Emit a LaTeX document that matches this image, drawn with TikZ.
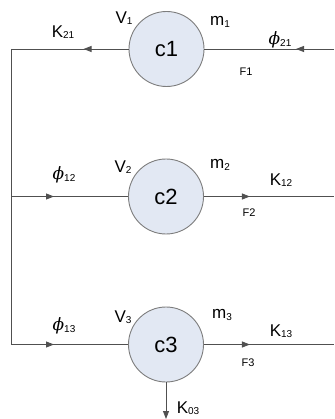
\documentclass[tikz,border=0pt]{standalone}
\usepackage{fontspec}
\setmainfont{Liberation Sans}
\newfontfamily\phifont{DejaVu Serif}
\usetikzlibrary{arrows.meta,decorations.markings}
\definecolor{cfill}{RGB}{226,232,243}
\definecolor{cline}{RGB}{125,125,125}
\definecolor{wline}{RGB}{80,80,80}
\newcommand\sub[1]{{\fontsize{10}{10}\selectfont\raisebox{-1.5pt}{#1}}}
\newcommand\phisym{{\phifont\itshape\fontsize{17}{19}\selectfont ϕ}}
\tikzset{
  tank/.style={circle, draw=cline, fill=cfill, line width=0.9pt, minimum size=75pt, inner sep=0pt, font=\fontsize{22}{24}\selectfont},
  wire/.style={draw=wline, line width=0.9pt},
  lab/.style={inner sep=0pt, font=\fontsize{17}{19}\selectfont},
  flab/.style={inner sep=0pt, font=\fontsize{11}{13}\selectfont},
  arrat/.style={postaction={decorate, decoration={markings, mark=at position #1 with {\arrow{Triangle[length=8pt,width=6pt]}}}}},
}
\begin{document}
\begin{tikzpicture}[x=1pt,y=-1pt]
\useasboundingbox (0,0) rectangle (334,419);
\node[tank] (c1) at (166.5,49) {c1};
\node[tank] (c2) at (166,196.5) {c2};
\node[tank] (c3) at (166,344.5) {c3};
\coordinate (r1) at (334,49);
\coordinate (l1) at (11,49);
\coordinate (l2) at (11,196.5);
\coordinate (r2) at (334,196.5);
\coordinate (l3) at (11,344.5);
\coordinate (r3) at (334,344.5);
\coordinate (b3) at (166,419);
% row 1
\draw[wire, arrat=38pt] (r1) -- (c1.east);
\draw[wire, arrat=45pt] (c1.west) -- (l1);
\draw[wire] (l1) -- (l3);
% row 2
\draw[wire, arrat=43pt] (l2) -- (c2.west);
\draw[wire, arrat=46pt] (c2.east) -- (r2);
% row 3
\draw[wire, arrat=43pt] (l3) -- (c3.west);
\draw[wire, arrat=46pt] (c3.east) -- (r3);
\draw[wire, -{Triangle[length=8pt,width=6pt]}] (c3.south) -- (b3);
% labels row 1
\node[lab] (k21) at (63,32) {K\sub{21}};
\node[lab] (v1) at (124,18) {V\sub{1}};
\node[lab] (m1) at (220,22) {m\sub{1}};
\node[lab] (p21) at (280,40) {\phisym\sub{21}};
\node[flab] (f1) at (246,72) {F1};
% row 2
\node[lab] (p12) at (64,175) {\phisym\sub{12}};
\node[lab] (v2) at (123,167) {V\sub{2}};
\node[lab] (m2) at (220,165) {m\sub{2}};
\node[lab] (k12) at (281,180) {K\sub{12}};
\node[flab] (f2) at (249,213) {F2};
% row 3
\node[lab] (p13) at (64,326) {\phisym\sub{13}};
\node[lab] (v3) at (123,317) {V\sub{3}};
\node[lab] (m3) at (222,315) {m\sub{3}};
\node[lab] (k13) at (281,331) {K\sub{13}};
\node[flab] (f3) at (248,363) {F3};
\node[lab] (k03) at (188,408) {K\sub{03}};
\end{tikzpicture}
\end{document}
